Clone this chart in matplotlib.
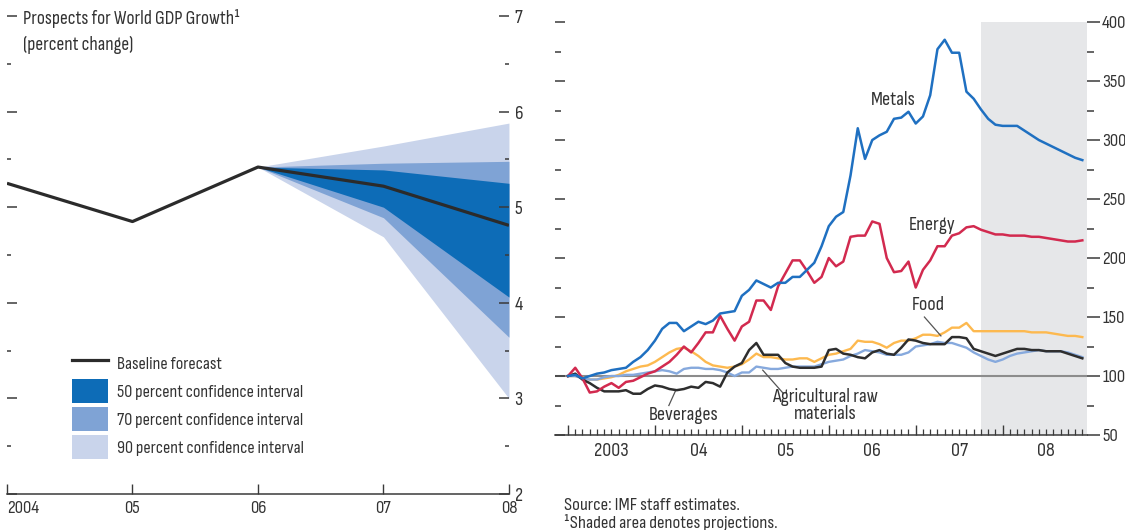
import numpy as np
import matplotlib
matplotlib.use('Agg')
import matplotlib.pyplot as plt
from matplotlib.lines import Line2D
from matplotlib.patches import Patch

plt.rcParams['font.family'] = ['Sofia Sans Condensed', 'Sofia Sans Semi Condensed',
                               'Liberation Sans', 'DejaVu Sans']

# ---- left panel: world GDP growth fan chart
gdp_years = [2004, 2005, 2006, 2007, 2008]
gdp_baseline = [5.25, 4.85, 5.42, 5.22, 4.81]
fan_years = [2006, 2007, 2008]
ci90_low = [5.42, 4.69, 3.00]
ci90_high = [5.42, 5.64, 5.88]
ci70_low = [5.42, 4.89, 3.64]
ci70_high = [5.42, 5.46, 5.48]
ci50_low = [5.42, 5.00, 4.06]
ci50_high = [5.42, 5.39, 5.25]
gdp_xlabels = ['2004', '05', '06', '07', '08']

# ---- right panel: commodity price indices, Jan 2003 = 100 (monthly, Jan 2003 - Dec 2008)
metals = [100, 101, 98, 100, 102, 103, 105, 106, 107, 112, 116, 122,
          130, 140, 145, 145, 138, 142, 146, 144, 147, 153, 154, 155,
          168, 173, 181, 178, 175, 179, 179, 184, 184, 190, 196, 210,
          227, 235, 239, 270, 310, 284, 300, 304, 307, 318, 319, 324,
          314, 320, 338, 377, 385, 374, 374, 341, 335, 326, 318, 313,
          312, 312, 312, 308, 304, 300, 297, 294, 291, 288, 285, 283]
energy = [100, 107, 98, 86, 87, 91, 94, 90, 95, 96, 99, 102,
          104, 108, 112, 118, 125, 120, 128, 137, 137, 151, 140, 130,
          142, 146, 164, 164, 156, 176, 187, 198, 198, 189, 179, 184,
          200, 193, 197, 218, 219, 219, 231, 229, 200, 188, 189, 197,
          175, 190, 198, 210, 210, 219, 221, 226, 227, 224, 222, 220,
          220, 219, 219, 219, 218, 218, 217, 216, 215, 214, 214, 215]
food = [100, 100, 99, 97, 97, 98, 99, 101, 104, 106, 108, 109,
        112, 116, 120, 123, 124, 121, 117, 112, 109, 108, 107, 108,
        110, 114, 119, 116, 116, 115, 114, 114, 115, 115, 112, 115,
        118, 119, 121, 123, 130, 129, 129, 127, 124, 128, 130, 130,
        132, 135, 135, 134, 137, 141, 141, 145, 138, 138, 138, 138,
        138, 138, 138, 138, 137, 137, 137, 136, 135, 134, 134, 133]
beverages = [100, 102, 97, 94, 90, 87, 87, 87, 88, 85, 85, 89,
             92, 91, 89, 88, 89, 91, 90, 95, 94, 91, 103, 108,
             111, 122, 128, 118, 118, 118, 111, 108, 107, 107, 107, 108,
             122, 123, 119, 118, 116, 115, 120, 122, 119, 118, 124, 131,
             130, 128, 127, 127, 127, 133, 133, 132, 123, 121, 119, 117,
             119, 121, 123, 123, 122, 122, 121, 121, 121, 119, 117, 115]
agri = [100, 100, 98, 97, 97, 99, 100, 100, 101, 101, 102, 103,
        104, 105, 104, 102, 106, 107, 107, 106, 106, 105, 103, 100,
        103, 103, 108, 107, 106, 106, 107, 108, 108, 108, 108, 110,
        112, 113, 114, 117, 119, 122, 121, 120, 118, 118, 118, 120,
        125, 126, 127, 129, 128, 128, 126, 124, 120, 117, 114, 112,
        114, 117, 119, 120, 121, 122, 121, 121, 121, 120, 118, 116]
proj_start = 2007.75
year_labels = ['2003', '04', '05', '06', '07', '08']

months = 2003 + np.arange(len(metals)) / 12.0

DARK = '#3a3a3a'
TXT = '#333333'

fig = plt.figure(figsize=(11.25, 5.3), dpi=100)

# ================= left panel
ax1 = fig.add_axes([0.0062, 0.0679, 0.4462, 0.9019])
ax1.fill_between(fan_years, ci90_low, ci90_high, color='#c9d4eb', lw=0)
ax1.fill_between(fan_years, ci70_low, ci70_high, color='#7fa3d5', lw=0)
ax1.fill_between(fan_years, ci50_low, ci50_high, color='#0d6cb7', lw=0)
ax1.plot(gdp_years, gdp_baseline, color='#2b2b2b', lw=2.3, solid_capstyle='butt')

ax1.set_xlim(2004, 2008)
ax1.set_ylim(2, 7)
for s in ['top', 'left', 'right']:
    ax1.spines[s].set_visible(False)
ax1.spines['bottom'].set_color(DARK)
ax1.spines['bottom'].set_linewidth(1.1)

ax1.set_xticks(gdp_years)
ax1.set_xticklabels(gdp_xlabels, fontsize=13.5, color=TXT)
ax1.get_xticklabels()[0].set_ha('left')
ax1.tick_params(axis='x', direction='in', length=7, width=1.0, color=DARK, pad=5)

ax1.set_yticks([2, 3, 4, 5, 6, 7])
ax1.set_yticks([2.5, 3.5, 4.5, 5.5, 6.5], minor=True)
ax1.tick_params(axis='y', which='both', direction='in', left=True, right=True,
                labelleft=False, labelright=True, color=DARK, width=1.1,
                labelsize=14, labelcolor=TXT, pad=4)
ax1.tick_params(axis='y', which='major', length=7)
ax1.tick_params(axis='y', which='minor', length=3)

ax1.text(0.032, 0.995, 'Prospects for World GDP Growth¹', transform=ax1.transAxes,
         fontsize=14, color=TXT, va='center', ha='left')
ax1.text(0.032, 0.94, '(percent change)', transform=ax1.transAxes,
         fontsize=14, color=TXT, va='center', ha='left')

handles = [Line2D([], [], color='#2b2b2b', lw=2.3),
           Patch(facecolor='#0d6cb7', edgecolor='none'),
           Patch(facecolor='#7fa3d5', edgecolor='none'),
           Patch(facecolor='#c9d4eb', edgecolor='none')]
labels = ['Baseline forecast', '50 percent confidence interval',
          '70 percent confidence interval', '90 percent confidence interval']
leg = ax1.legend(handles, labels, loc='upper left', bbox_to_anchor=(0.13, 0.30),
                 frameon=False, fontsize=13, handlelength=2.0, handleheight=1.7,
                 labelspacing=0.2, handletextpad=0.5, borderpad=0, borderaxespad=0)
for t in leg.get_texts():
    t.set_color(TXT)

# ================= right panel
ax2 = fig.add_axes([0.4933, 0.1792, 0.4729, 0.7792])
ax2.axvspan(proj_start, 2009.5, color='#e6e7e9', lw=0, zorder=0)
ax2.axhline(100, color='#8c8c8c', lw=1.5, zorder=1)

ax2.plot(months, food, color='#fdb94f', lw=1.7, zorder=2)
ax2.plot(months, agri, color='#86a9dd', lw=1.7, zorder=2)
ax2.plot(months, beverages, color='#2e2e2e', lw=1.8, zorder=3)
ax2.plot(months, energy, color='#d22a4f', lw=1.8, zorder=3)
ax2.plot(months, metals, color='#1f70c1', lw=1.8, zorder=3)

ax2.set_xlim(2002.85, 2008.97)
ax2.set_ylim(50, 400)
for s in ['top', 'left', 'right']:
    ax2.spines[s].set_visible(False)
ax2.spines['bottom'].set_color(DARK)
ax2.spines['bottom'].set_linewidth(1.1)

ax2.set_xticks(np.arange(2003, 2009))
ax2.set_xticks(months, minor=True)
ax2.set_xticklabels([])
ax2.tick_params(axis='x', which='major', direction='in', length=7, width=1.0, color=DARK)
ax2.tick_params(axis='x', which='minor', direction='in', length=4, width=0.9, color=DARK)
for i, lab in enumerate(year_labels):
    ax2.text(2003.5 + i, -0.038, lab, transform=ax2.get_xaxis_transform(),
             ha='center', va='center', fontsize=14.5, color=TXT)

ax2.set_yticks(np.arange(50, 401, 50))
ax2.set_yticks(np.arange(75, 400, 50), minor=True)
ax2.tick_params(axis='y', which='both', direction='in', left=True, right=False,
                labelleft=False, color=DARK, width=1.1)
ax2.tick_params(axis='y', which='major', length=7)
ax2.tick_params(axis='y', which='minor', length=4)

sec = ax2.secondary_yaxis('right')
sec.spines['right'].set_visible(False)
sec.set_yticks(np.arange(50, 401, 50))
sec.set_yticks(np.arange(75, 400, 50), minor=True)
sec.tick_params(axis='y', which='both', direction='out', color=DARK, width=1.1,
                labelsize=13.5, labelcolor=TXT, pad=2)
sec.tick_params(axis='y', which='major', length=9)
sec.tick_params(axis='y', which='minor', length=5)

ANN = 14.5
ax2.text(2006.74, 334, 'Metals', fontsize=ANN, color=TXT, ha='center', va='center')
ax2.text(2007.19, 228, 'Energy', fontsize=ANN, color=TXT, ha='center', va='center')
ax2.text(2007.14, 160, 'Food', fontsize=ANN, color=TXT, ha='center', va='center')
ax2.plot([2007.10, 2007.29], [150, 134], color='#555555', lw=0.9)
ax2.text(2004.33, 67, 'Beverages', fontsize=ANN, color=TXT, ha='center', va='center')
ax2.plot([2004.16, 2004.24], [75, 88], color='#555555', lw=0.9)
ax2.text(2005.96, 75, 'Agricultural raw\nmaterials', fontsize=ANN, color=TXT,
         ha='center', va='center', linespacing=0.95)
ax2.plot([2005.24, 2005.48], [105, 85], color='#555555', lw=0.9)

fig.text(0.501, 0.047, 'Source: IMF staff estimates.', fontsize=13.5, color=TXT,
         ha='left', va='center')
fig.text(0.501, 0.014, '¹Shaded area denotes projections.', fontsize=13.5, color=TXT,
         ha='left', va='center')

fig.savefig('out.png', dpi=100)
